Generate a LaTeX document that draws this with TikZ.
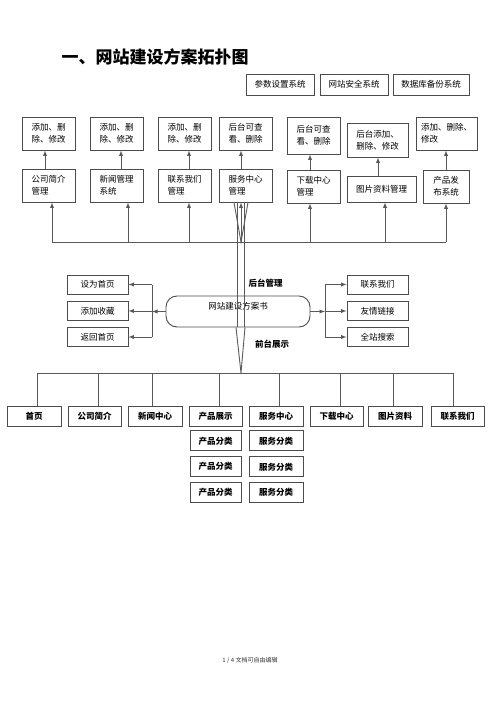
\documentclass[tikz,border=0pt]{standalone}
\usepackage{fontspec}
\setmainfont{Noto Sans CJK SC}
\usetikzlibrary{arrows,shapes,positioning}

\tikzset{
  line/.style={draw=black!65, line width=0.9pt},
  box/.style 2 args={draw=black!70, line width=0.9pt, inner sep=1pt, align=left,
    minimum width=#1, minimum height=#2, font=\fontsize{8.5}{12}\selectfont},
  menu/.style 2 args={box={#1}{#2}, font=\fontsize{8.5}{12}\selectfont\bfseries},
  book/.style={draw=black!70, line width=0.9pt, rounded corners=11pt, minimum width=144pt,
    minimum height=31pt, text depth=12pt, font=\fontsize{8.5}{12}\selectfont},
  tag/.style={font=\fontsize{8.5}{12}\selectfont\bfseries},
}

\begin{document}
\begin{tikzpicture}[x=1pt,y=-1pt,>=latex]
    \useasboundingbox (0,0) rectangle (500,708);
    \node[anchor=west, font=\fontsize{17}{20}\selectfont\bfseries] (title) at (58,57) {一、网站建设方案拓扑图};

    \node[box={68pt}{21pt}] (sys1) at (280,84.5) {参数设置系统};
    \node[box={68pt}{21pt}] (sys2) at (354,84.5) {网站安全系统};
    \node[box={76pt}{21pt}] (sys3) at (431,84.5) {数据库备份系统};

    \node[box={53pt}{33pt}] (op1) at (48.5,133.5) {添加、删\\除、修改};
    \node[box={53pt}{33pt}] (op2) at (116.5,133.5) {添加、删\\除、修改};
    \node[box={53pt}{33pt}] (op3) at (184.5,133.5) {添加、删\\除、修改};
    \node[box={53pt}{33pt}] (op4) at (245.5,133.5) {后台可查\\看、删除};
    \node[box={53pt}{37pt}] (op5) at (313.5,135.5) {后台可查\\看、删除};
    \node[box={61pt}{34pt}] (op6) at (377.5,140) {后台添加、\\删除、修改};
    \node[box={61pt}{33pt}] (op7) at (446.5,133.5) {添加、删除、\\修改};

    \node[box={53pt}{33pt}] (mg1) at (48.5,185.5) {公司简介\\管理};
    \node[box={53pt}{33pt}] (mg2) at (116.5,185.5) {新闻管理\\系统};
    \node[box={53pt}{33pt}] (mg3) at (184.5,185.5) {联系我们\\管理};
    \node[box={53pt}{33pt}] (mg4) at (245.5,185.5) {服务中心\\管理};
    \node[box={53pt}{33pt}] (mg5) at (313.5,186.5) {下载中心\\管理};
    \node[box={69pt}{26pt}] (mg6) at (381.5,189) {图片资料管理};
    \node[box={46pt}{33pt}] (mg7) at (446,186.5) {产品发\\布系统};

    \foreach \up/\dn/\x in {op1/mg1/45, op2/mg2/121, op3/mg3/189, op4/mg4/241,
        op5/mg5/310, op6/mg6/378, op7/mg7/446}
        \draw[line,->] (\x,0 |- \dn.north) -- (\x,0 |- \up.south);

    \coordinate (busT) at (52,242);
    \draw[line] (busT) -- (446,0 |- busT);
    \foreach \n/\x in {mg1/52, mg2/128, mg3/189, mg4/241, mg5/310, mg6/385, mg7/446}
        \draw[line,->] (\x,0 |- busT) -- (\x,0 |- \n.south);

    \node[book] (plan) at (238,311.5) {网站建设方案书};
    \node[tag] (back) at (265.5,283) {后台管理};
    \node[tag] (front) at (272,344) {前台展示};

    \node[box={61pt}{19pt}, align=center] (fn1) at (97.5,284.5) {设为首页};
    \node[box={61pt}{19pt}, align=center] (fn2) at (97.5,311) {添加收藏};
    \node[box={61pt}{19pt}, align=center] (fn3) at (97.5,337) {返回首页};
    \coordinate (lj) at (152,311.5);
    \draw[line,->] (plan.west) -- (lj);
    \draw[line] (lj |- fn1) -- (lj |- fn3);
    \foreach \n in {fn1,fn2,fn3}
        \draw[line,->] (lj |- \n) -- (\n.east);

    \node[box={61pt}{19pt}, align=center] (ln1) at (377.5,284.5) {联系我们};
    \node[box={61pt}{19pt}, align=center] (ln2) at (377.5,311) {友情链接};
    \node[box={61pt}{19pt}, align=center] (ln3) at (377.5,337) {全站搜索};
    \coordinate (rj) at (325,311.5);
    \draw[line,->] (plan.east) -- (rj);
    \draw[line] (rj |- ln1) -- (rj |- ln3);
    \foreach \n in {ln1,ln2,ln3}
        \draw[line,->] (rj |- \n) -- (\n.west);

    \coordinate (busB) at (37,373);
    \draw[line] (busB) -- (453,0 |- busB);

    % odd lines round the service centre
    \draw[line] (237,0 |- mg4.south) -- (237,0 |- plan.south);
    \draw[line] (244,0 |- mg4.south) -- (244,0 |- plan.south);
    \draw[line] (234,0 |- mg4.south) -- (241,0 |- busT) -- (248,0 |- mg4.south);
    \draw[line] (236,0 |- plan.south) -- (241,0 |- busB) -- (245,0 |- plan.south);

    \node[menu={54pt}{20pt}] (pg1) at (34,416) {首页};
    \node[menu={53pt}{20pt}] (pg2) at (94.5,416) {公司简介};
    \node[menu={54pt}{20pt}] (pg3) at (155,416) {新闻中心};
    \node[menu={53pt}{20pt}] (pg4) at (215.5,416) {产品展示};
    \node[menu={54pt}{20pt}] (pg5) at (276,416) {服务中心};
    \node[menu={53pt}{20pt}] (pg6) at (336.5,416) {下载中心};
    \node[menu={54pt}{20pt}] (pg7) at (395,416) {图片资料};
    \node[menu={53pt}{20pt}] (pg8) at (457.5,416) {联系我们};
    \foreach \n/\x in {pg1/37, pg2/98, pg3/152, pg4/219, pg5/279, pg6/340, pg7/393, pg8/453}
        \draw[line] (\x,0 |- busB) -- (\x,0 |- \n.north);

    \node[menu={51pt}{20pt}, below=4pt of pg4] (pc1) {产品分类};
    \node[menu={51pt}{20pt}, below=5pt of pc1] (pc2) {产品分类};
    \node[menu={51pt}{20pt}, below=5pt of pc2] (pc3) {产品分类};
    \node[menu={54pt}{20pt}, below=4pt of pg5] (sc1) {服务分类};
    \node[menu={54pt}{20pt}, below=5pt of sc1] (sc2) {服务分类};
    \node[menu={54pt}{20pt}, below=5pt of sc2] (sc3) {服务分类};

    \node[font=\fontsize{6}{7}\selectfont, text=black!80] (foot) at (250,660) {1 / 4 文档可自由编辑};
\end{tikzpicture}
\end{document}
